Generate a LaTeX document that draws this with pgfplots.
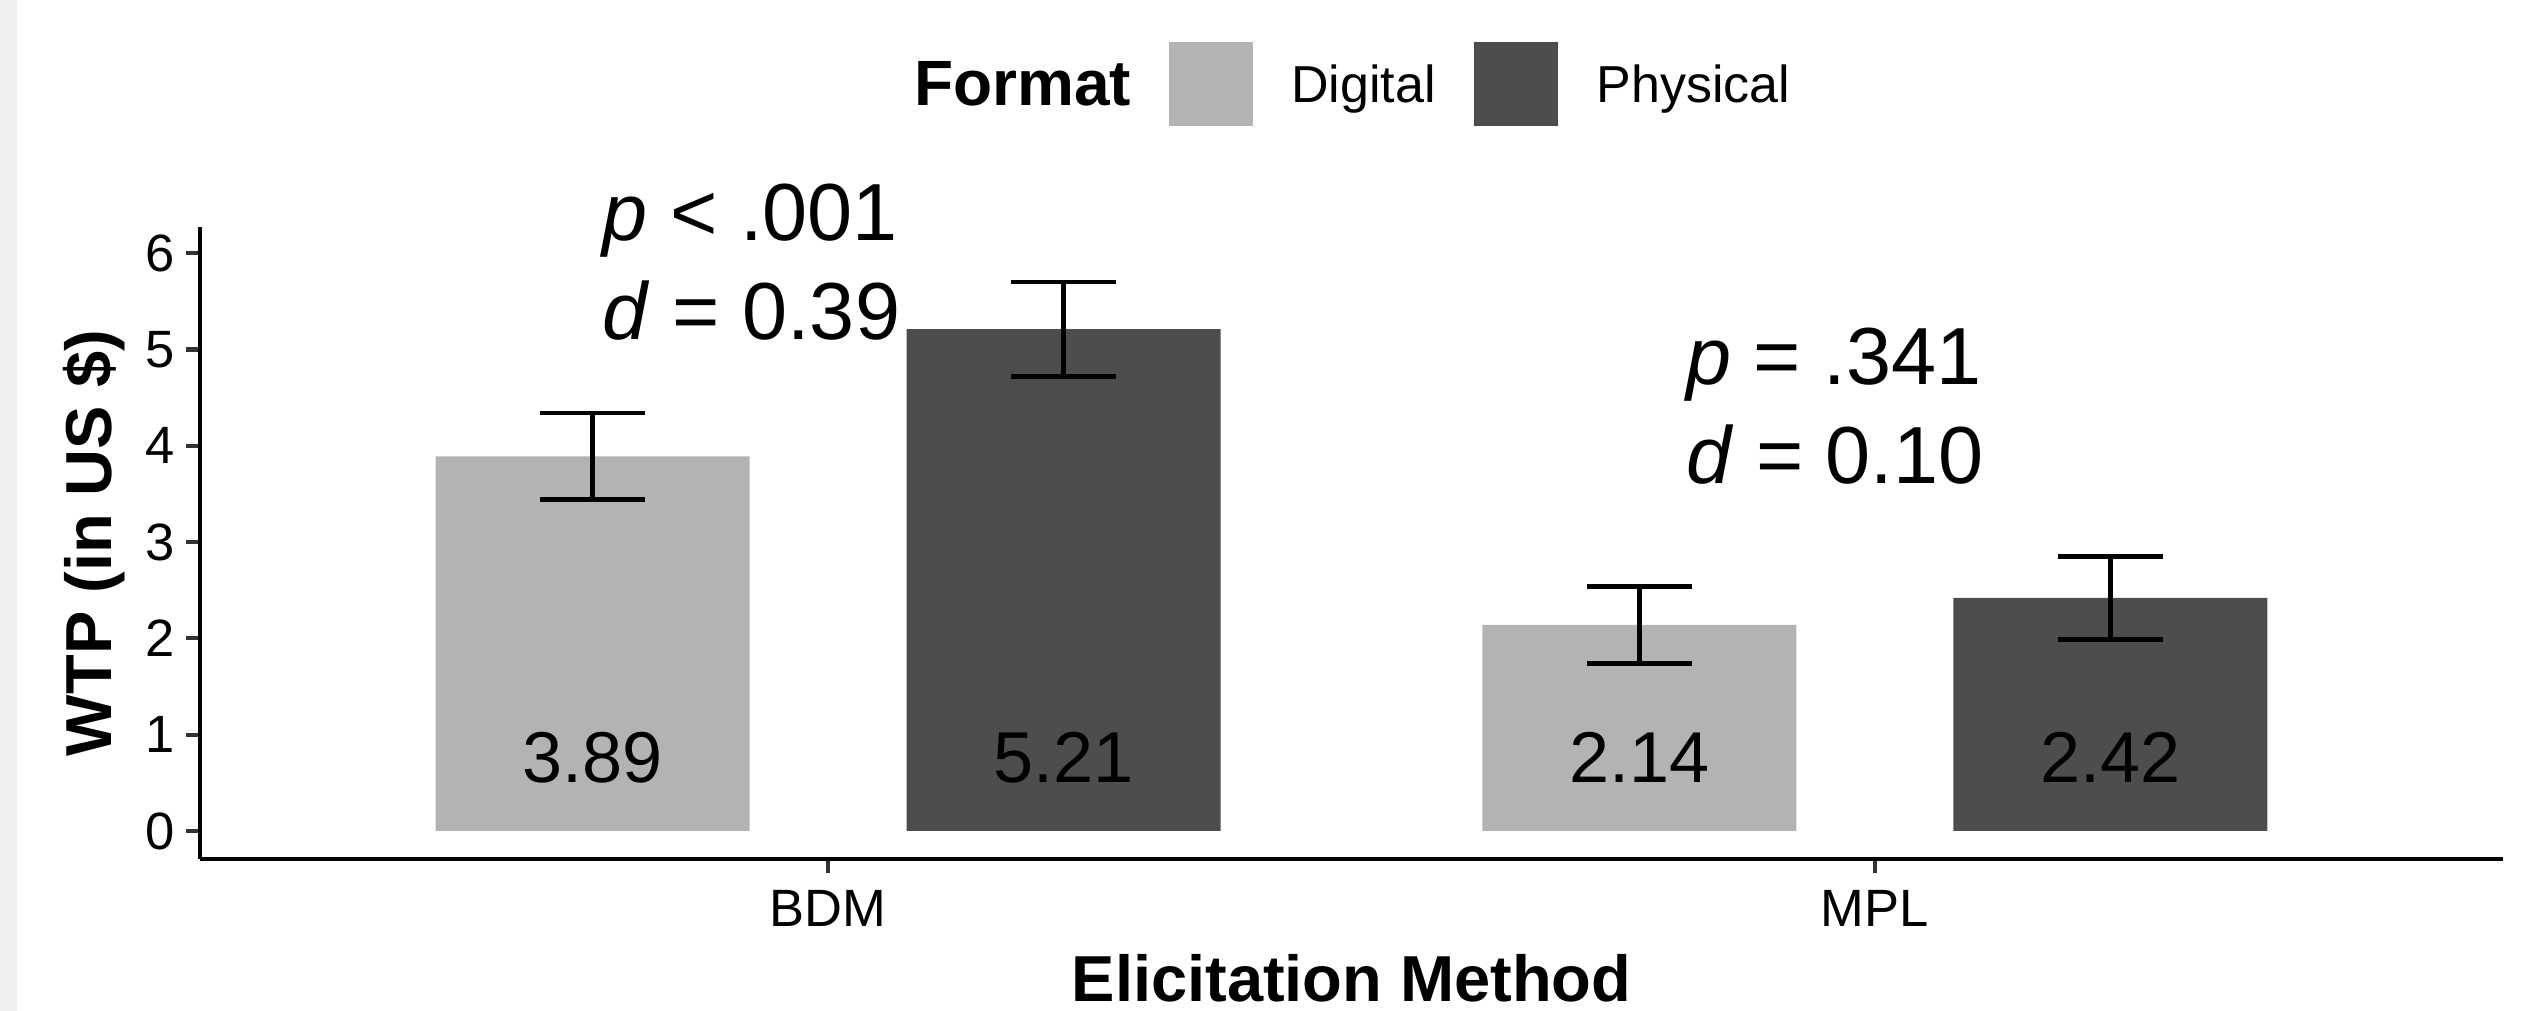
\documentclass[border=0pt]{standalone}
\usepackage{fontspec}
\setmainfont{Liberation Sans}
\usepackage{pgfplots}
\pgfplotsset{compat=1.18}
\usepackage{pgfplotstable}
\definecolor{digital}{HTML}{B3B3B3}
\definecolor{physical}{HTML}{4D4D4D}
\definecolor{tickgray}{HTML}{333333}
\definecolor{stripgray}{HTML}{F0F0F0}

\pgfplotstableread{
x y err
0.775 3.89 0.45
1.775 2.14 0.40
}\digitaldata
\pgfplotstableread{
x y err
1.225 5.21 0.49
2.225 2.42 0.43
}\physicaldata
\pgfplotstableread{
x y label
0.775 0.763 3.89
1.225 0.763 5.21
1.775 0.763 2.14
2.225 0.763 2.42
}\labeldata

\begin{document}
\begin{tikzpicture}
\useasboundingbox (0,0) rectangle (509pt,202.2pt);
\fill[stripgray] (0,0) rectangle (3.4pt,202.2pt);
\begin{axis}[
  at={(40pt,30.34pt)}, anchor=south west,
  scale only axis, width=460.6pt, height=126.52pt,
  xmin=0.4, xmax=2.6, ymin=-0.294, ymax=6.275,
  clip=false,
  axis x line*=bottom, axis y line*=left,
  axis line style={line width=0.85pt, black, -},
  xtick={1,2}, xticklabels={BDM,MPL},
  ytick={0,1,2,3,4,5,6},
  minor tick num=0,
  tick align=outside,
  major tick length=2.8pt,
  every tick/.style={line width=0.85pt, tickgray},
  /pgf/number format/assume math mode=true,
  ticklabel style={font=\fontsize{10.5}{12}\selectfont, text=black},
  xticklabel style={anchor=base, yshift=-10.68pt, inner sep=0pt},
  yticklabel style={anchor=east, xshift=-2.0pt, inner sep=0pt},
  xlabel={Elicitation Method},
  ylabel={WTP (in US \$)},
  xlabel style={at={(axis description cs:0.5,-0.2251)}, anchor=base, inner sep=0pt, font=\fontsize{13}{15}\selectfont\bfseries},
  ylabel style={at={(axis description cs:-0.03834,0.5)}, anchor=base, inner sep=0pt, font=\fontsize{13}{15}\selectfont\bfseries},
  legend columns=-1,
  legend style={at={(axis description cs:0.2931,1.2256)}, anchor=west, draw=none, fill=none, inner sep=0pt,
    font=\fontsize{10.4}{12}\selectfont, nodes={inner sep=0pt},
    /tikz/every even column/.append style={column sep=7.6pt},
    /tikz/every odd column/.append style={column sep=7.6pt}},
]
\addlegendimage{empty legend}
\addlegendentry{\fontsize{12.8}{14}\selectfont\bfseries Format}

\addplot[ybar, bar width=0.3, bar shift=0pt, fill=digital, draw=none,
  legend image code/.code={\fill[digital] (-8.45pt,-7.75pt) rectangle (8.45pt,9.15pt);},
  error bars/.cd, y dir=both, y explicit,
  error bar style={line width=0.9pt, black, solid},
  error mark options={rotate=90, line width=0.9pt, black, mark size=10.5pt}]
  table[x=x, y=y, y error=err]{\digitaldata};
\addlegendentry{Digital}

\addplot[ybar, bar width=0.3, bar shift=0pt, fill=physical, draw=none,
  legend image code/.code={\fill[physical] (-8.45pt,-7.75pt) rectangle (8.45pt,9.15pt);},
  error bars/.cd, y dir=both, y explicit,
  error bar style={line width=0.9pt, black, solid},
  error mark options={rotate=90, line width=0.9pt, black, mark size=10.5pt}]
  table[x=x, y=y, y error=err]{\physicaldata};
\addlegendentry{Physical}

\addplot[draw=none, mark=none, forget plot, nodes near coords, point meta=explicit symbolic,
  nodes near coords align={center},
  every node near coord/.append style={font=\fontsize{14.4}{16}\selectfont, inner sep=0pt, text=black}]
  table[x=x, y=y, meta=label]{\labeldata};

\node[anchor=base west, inner sep=0pt, font=\fontsize{16.2}{19}\selectfont] at (axis cs:0.784,6.127) {\textit{p} < .001};
\node[anchor=base west, inner sep=0pt, font=\fontsize{16.2}{19}\selectfont] at (axis cs:0.784,5.099) {\textit{d} = 0.39};
\node[anchor=base west, inner sep=0pt, font=\fontsize{16.2}{19}\selectfont] at (axis cs:1.819,4.631) {\textit{p} = .341};
\node[anchor=base west, inner sep=0pt, font=\fontsize{16.2}{19}\selectfont] at (axis cs:1.819,3.603) {\textit{d} = 0.10};
\end{axis}
\end{tikzpicture}
\end{document}
